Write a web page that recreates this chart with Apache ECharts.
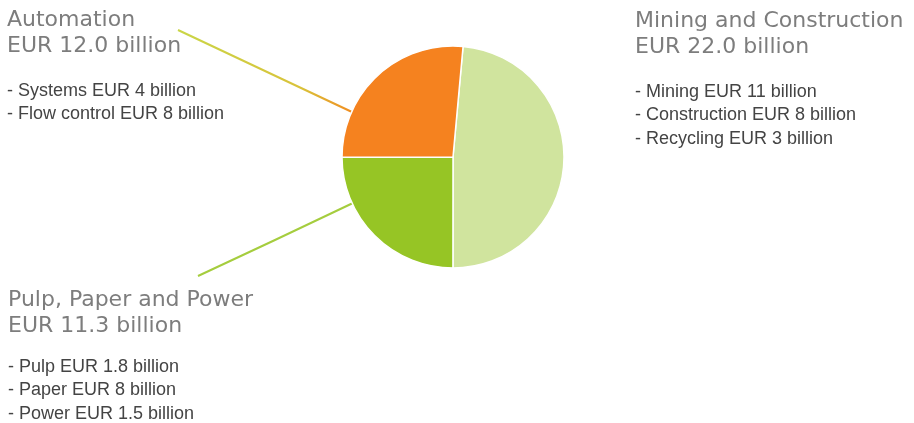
<!DOCTYPE html>
<html lang="en">
<head>
    <meta charset="UTF-8">
    <title>Business areas</title>
    <script src="https://cdn.jsdelivr.net/npm/echarts@6/dist/echarts.min.js"></script>
    <style>
        html, body { margin: 0; padding: 0; background: #fff; }
        #container { width: 914px; height: 423px; }
    </style>
</head>
<body>
<div id="container"></div>
<script type="text/javascript">
    // data
    var areas = ['Mining and Construction', 'Pulp, Paper and Power', 'Automation'];
    var sales = [22.0, 11.3, 12.0];
    var colors = ['#d0e49e', '#96c525', '#f5821f'];
    var subItems = [
        ['- Mining EUR 11 billion', '- Construction EUR 8 billion', '- Recycling EUR 3 billion'],
        ['- Pulp EUR 1.8 billion', '- Paper EUR 8 billion', '- Power EUR 1.5 billion'],
        ['- Systems EUR 4 billion', '- Flow control EUR 8 billion']
    ];

    // where each text block goes, and its leader line
    var labelPos = [
        { x: 635, y: 8, gap: 'g1', line: null },
        { x: 8, y: 287, gap: 'g2', line: [[198, 276], [275, 240], [353, 203]] },
        { x: 7, y: 7, gap: 'g1', line: [[178, 30], [265, 71], [352, 112]] }
    ];
    var lineColors = [
        null,
        '#a5cd3e',
        { type: 'linear', x: 0, y: 0, x2: 1, y2: 1, colorStops: [{ offset: 0, color: '#c9d647' }, { offset: 0.7, color: '#d9c23a' }, { offset: 1, color: '#f28a1f' }] }
    ];

    var myChart = echarts.init(document.getElementById('container'));

    var pieData = areas.map(function (name, i) {
        return {
            name: name,
            value: sales[i],
            itemStyle: { color: colors[i] },
            labelLine: {
                show: !!labelPos[i].line,
                lineStyle: { color: lineColors[i] || '#aaa', width: 2 }
            }
        };
    });

    var option = {
        backgroundColor: '#fff',
        animation: false,
        series: [{
            type: 'pie',
            center: [453, 157],
            radius: 111,
            startAngle: 84.8,
            clockwise: true,
            avoidLabelOverlap: false,
            silent: true,
            itemStyle: { borderColor: '#fff', borderWidth: 1.5 },
            label: {
                show: true,
                position: 'outside',
                formatter: function (p) {
                    var i = p.dataIndex;
                    var s = '{h|' + p.name + '}\n{h|EUR ' + p.value.toFixed(1) + ' billion}\n{' + labelPos[i].gap + '| }';
                    subItems[i].forEach(function (t) {
                        s += '\n{s|' + t + '}';
                    });
                    return s;
                },
                rich: {
                    h: { fontFamily: 'DejaVu Sans', fontSize: 22, color: '#7d7d7d', lineHeight: 26 },
                    g1: { fontSize: 10, lineHeight: 20 },
                    g2: { fontSize: 10, lineHeight: 16 },
                    s: { fontFamily: 'Liberation Sans', fontSize: 18, color: '#444', lineHeight: 23.5 }
                }
            },
            labelLayout: function (params) {
                var pos = labelPos[params.dataIndex];
                var res = { x: pos.x, y: pos.y, align: 'left', verticalAlign: 'top' };
                if (pos.line) {
                    res.labelLinePoints = pos.line;
                }
                return res;
            },
            data: pieData
        }]
    };
    myChart.setOption(option);
</script>
</body>
</html>
